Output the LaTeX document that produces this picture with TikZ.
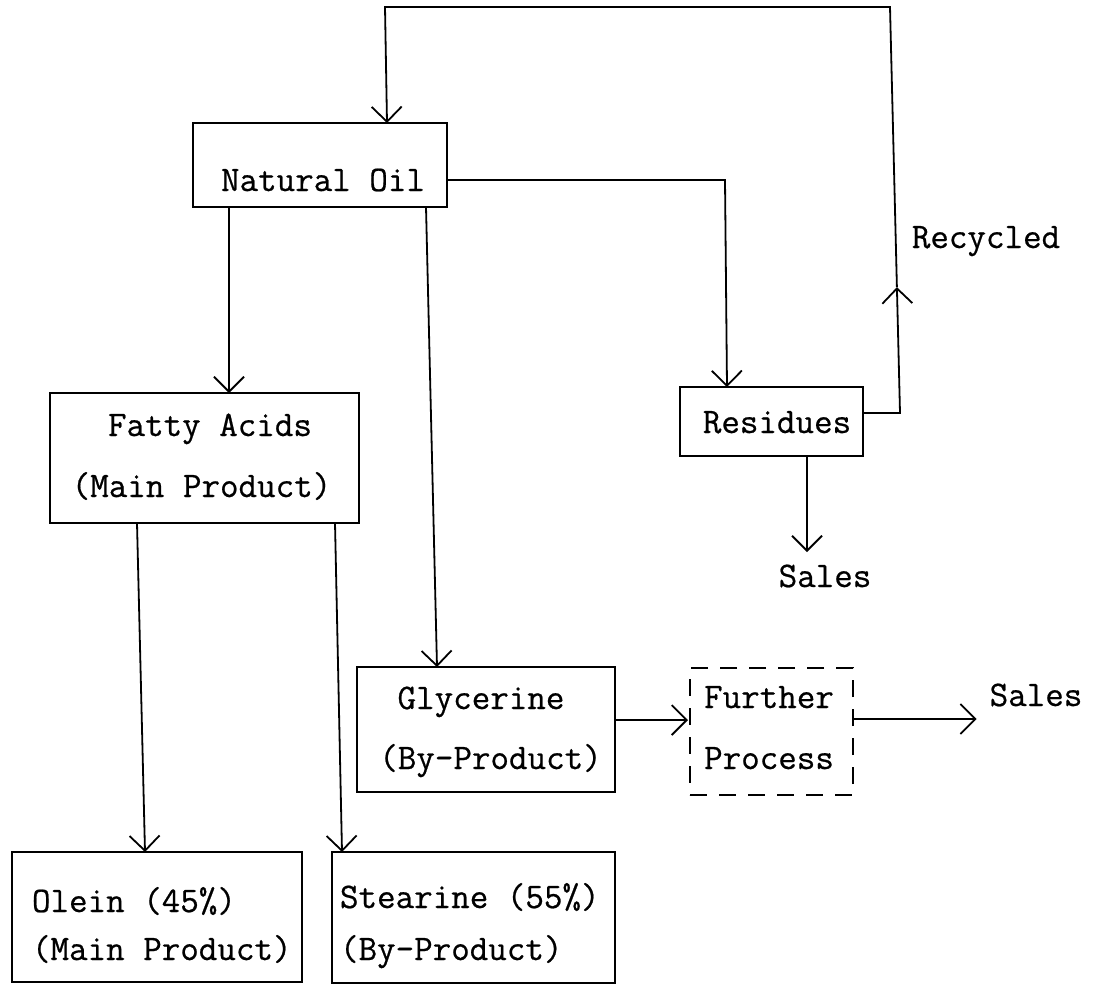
\documentclass[tikz,border=0pt]{standalone}
\usepackage{fontspec}
\newfontfamily\typewriter[FakeBold=0.6]{Latin Modern Mono}
\usetikzlibrary{arrows.meta,calc}
\tikzset{
  box/.style={draw, rectangle, line width=1.8pt, inner sep=0pt, outer sep=0pt},
  dashbox/.style={box, dash pattern=on 17pt off 12pt},
  tw/.style={font=\fontsize{36}{40}\selectfont\typewriter, inner sep=0pt, outer sep=0pt},
  wire/.style={line width=1.8pt},
  flow/.style={line width=1.8pt, -{Straight Barb[length=15pt,width=30pt]}}
}
\begin{document}
\begin{tikzpicture}[x=1pt,y=-1pt]
\useasboundingbox (0,0) rectangle (1094,994);

% boxes
\node[box, minimum width=254pt, minimum height=84pt]  (oil) at (320,165) {};
\node[box, minimum width=309pt, minimum height=130pt] (fa)  at (204.5,458) {};
\node[box, minimum width=183pt, minimum height=69pt]  (res) at (771.5,421.5) {};
\node[box, minimum width=258pt, minimum height=125pt] (gly) at (486,729.5) {};
\node[dashbox, minimum width=163pt, minimum height=127pt] (fur) at (771.5,731.5) {};
\node[box, minimum width=290pt, minimum height=130pt] (ole) at (157,917) {};
\node[box, minimum width=283pt, minimum height=131pt] (ste) at (473.5,917.5) {};

% box texts
\node[tw, anchor=base] (oilA) at (323,191) {Natural Oil};
\node[tw, anchor=base] (faA)  at (210,436) {Fatty Acids};
\node[tw, anchor=base] (faB)  at (201.5,497) {(Main Product)};
\node[tw, anchor=base] (resA) at (777,433) {Residues};
\node[tw, anchor=base] (glyA) at (481,709) {Glycerine};
\node[tw, anchor=base] (glyB) at (490.5,769) {(By-Product)};
\node[tw, anchor=base] (furA) at (769,708) {Further};
\node[tw, anchor=base] (furB) at (769,769) {Process};
\node[tw, anchor=base west] (oleA) at (32,912) {Olein (45\%)};
\node[tw, anchor=base west] (oleB) at (32,960) {(Main Product)};
\node[tw, anchor=base west] (steA) at (340,908) {Stearine (55\%)};
\node[tw, anchor=base west] (steB) at (340,960) {(By-Product)};

% free labels
\node[tw, anchor=base] (rec)    at (986,248)  {Recycled};
\node[tw, anchor=base] (salesA) at (825,587)  {Sales};
\node[tw, anchor=base] (salesB) at (1036,706) {Sales};

% recycle loop corners
\coordinate (loopR) at (900,413);
\coordinate (loopT) at (890,7);
\coordinate (loopL) at (385,7);
\coordinate (loopM) at ($(loopR)!0.31!(loopT)$);

% connectors
\draw[flow] ($(oil.south west)+(36,0)$) -- ($(fa.north west)+(179,0)$);
\draw[flow] ($(oil.south west)+(233,0)$) -- ($(gly.north west)+(80,0)$);
\draw[flow] ($(oil.north east)+(0,57)$) -- ($(res.north west)+(45,-207)$) -- ($(res.north west)+(47,0)$);
\draw[flow] ($(fa.south west)+(87,0)$) -- ($(ole.north west)+(133,0)$);
\draw[flow] ($(fa.south west)+(285,0)$) -- ($(ste.north west)+(10,0)$);
\draw[flow] ($(gly.north east)+(0,53)$) -- ($(fur.north west)+(-2,52)$);
\draw[flow] ($(fur.north east)+(0,51)$) -- ($(salesB.base west)+(-13,13)$);
\draw[flow] ($(res.south west)+(127,0)$) -- ($(salesA.base)+(-18,-35)$);
\draw[flow] ($(res.north east)+(0,26)$) -- (loopR) -- (loopM);
\draw[flow] (loopM) -- (loopT) -- (loopL) -- ($(oil.north west)+(194,0)$);
\end{tikzpicture}
\end{document}
